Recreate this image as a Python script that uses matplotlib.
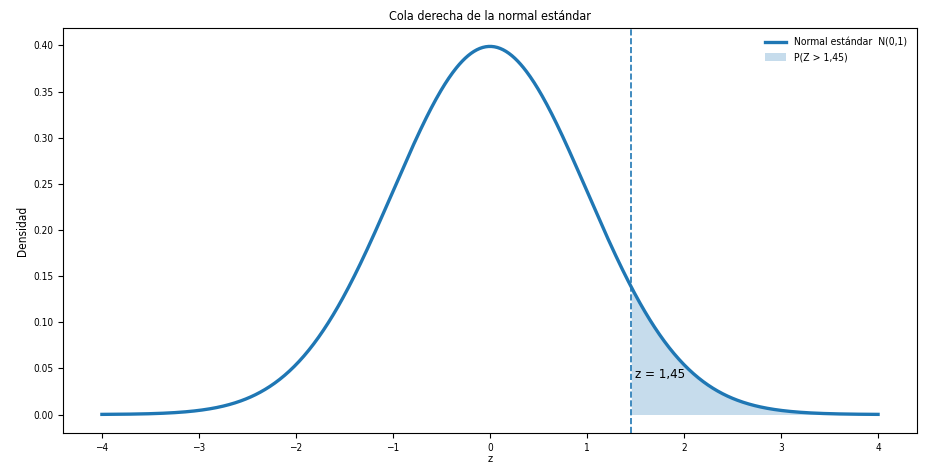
import numpy as np
import matplotlib.pyplot as plt

# Parámetros de la distribución y del valor crítico
mu = 0.0
sigma = 1.0
z_crit = 1.45
x_min, x_max = -4, 4

plt.rcParams['font.family'] = ['DejaVu Sans']
plt.rcParams['font.stretch'] = 'condensed'

x = np.linspace(x_min, x_max, 800)
pdf = np.exp(-0.5 * ((x - mu) / sigma) ** 2) / (sigma * np.sqrt(2 * np.pi))

fig = plt.figure(figsize=(9.28, 4.63), dpi=100)
ax = fig.add_axes([0.068, 0.065, 0.92, 0.8745])

ax.plot(x, pdf, lw=2.4, color='C0', label='Normal estándar  N(0,1)')
mask = x >= z_crit
ax.fill_between(x[mask], pdf[mask], color='C0', alpha=0.25, lw=0,
                label=f'P(Z > {str(z_crit).replace(".", ",")})')
ax.axvline(z_crit, color='C0', ls='--', lw=1.2)
ax.text(z_crit + 0.04, 0.04, f'z = {str(z_crit).replace(".", ",")}', fontsize=9.5)

ax.set_title('Cola derecha de la normal estándar', fontsize=9)
ax.set_xlabel('z', fontsize=8, labelpad=1)
ax.set_ylabel('Densidad', fontsize=8.5, labelpad=3)
ax.tick_params(labelsize=7.2)
ax.set_yticks(np.arange(0, 0.41, 0.05))
ax.yaxis.set_major_formatter(plt.FormatStrFormatter('%.2f'))
ax.legend(frameon=False, fontsize=7.5, loc='upper right')

fig.savefig('out.png', dpi=100)
